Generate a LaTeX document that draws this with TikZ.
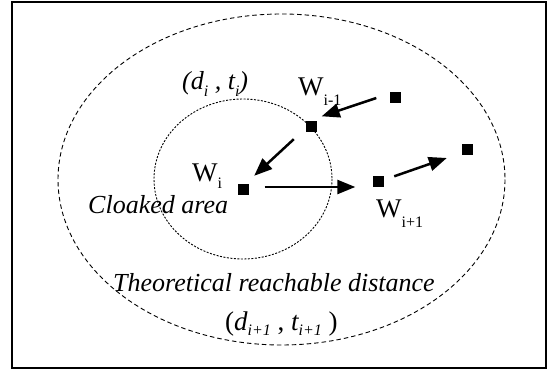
\documentclass[tikz,border=0pt]{standalone}
\usepackage{fontspec}
\setmainfont{Liberation Serif}
\usetikzlibrary{arrows.meta}

\newcommand{\lowsub}[2][10pt]{\raisebox{-#1}{\fontsize{16}{16}\selectfont #2}}

\begin{document}
\begin{tikzpicture}[x=1pt,y=-1pt,
    wpt/.style={fill=black,inner sep=0pt,minimum size=11pt},
    move/.style={line width=2.5pt,-{Triangle[length=18pt,width=14pt]}},
    lbl/.style={inner sep=0pt,anchor=base west,font=\fontsize{27}{27}\selectfont},
    ilbl/.style={lbl,font=\fontsize{26}{26}\selectfont\itshape}]
    \useasboundingbox (0,0) rectangle (552,371);
    \draw[line width=1.5pt] (12,2) rectangle (546,368);
    \draw[line width=0.9pt,dash pattern=on 4.5pt off 3pt] (281.5,179.5) ellipse [x radius=223.5,y radius=165.5];
    \draw[line width=0.9pt,dash pattern=on 2pt off 1.5pt] (243,179) ellipse [x radius=89,y radius=80];
    \node[wpt] (s) at (395,98) {};
    \node[wpt] (wa) at (311,127) {};
    \node[wpt] (wb) at (243,190) {};
    \node[wpt] (wc) at (378,182) {};
    \node[wpt] (e) at (467,150) {};
    \draw[move] ([xshift=-13pt]s.west) -- ([xshift=5pt,yshift=5pt]wa.north east);
    \draw[move] ([xshift=-11.5pt,yshift=-6.5pt]wa.south west) -- ([xshift=5.5pt,yshift=8.5pt]wb.north east);
    \draw[move] ([xshift=16pt,yshift=3pt]wb.east) -- ([xshift=-17pt,yshift=-5pt]wc.west);
    \draw[move] ([xshift=10.5pt]wc.north east) -- ([xshift=-14.5pt,yshift=-8pt]e.west);
    \node[ilbl] (dti) at (182,90) {(d\lowsub[7pt]{i} , t\lowsub[7pt]{i})};
    \node[lbl] (lwa) at (298,96) {W\lowsub{i-1}};
    \node[lbl] (lwb) at (192,182) {W\lowsub[7pt]{i}};
    \node[lbl] (lwc) at (376,218) {W\lowsub{i+1}};
    \node[ilbl] (cloak) at (88,214) {Cloaked area};
    \node[ilbl] (reach) at (113,292) {Theoretical reachable distance};
    \node[lbl] (dtn) at (225,331) {(\textit{d\lowsub[5pt]{i+1}} , \textit{t\lowsub[5pt]{i+1}} )};
\end{tikzpicture}
\end{document}
